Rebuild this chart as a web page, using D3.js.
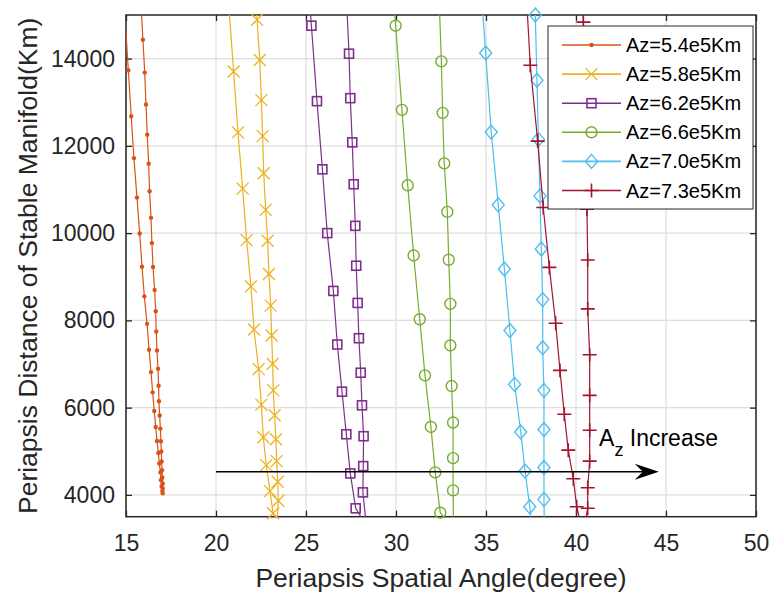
<!DOCTYPE html>
<html lang="en">
<head>
<meta charset="UTF-8">
<title>Periapsis spatial angle vs distance</title>
<script src="https://d3js.org/d3.v7.min.js"></script>
<style>
  body { margin: 0; background: #fff; }
  svg { display: block; font-family: "Liberation Sans", Arial, sans-serif; }
</style>
</head>
<body>
<script>
// data: each series goes down one branch, turns, and goes back up
const ang54 = [14.97, 15.13, 15.29, 15.44, 15.61, 15.76, 15.89, 16.02, 16.17, 16.28, 16.39, 16.48, 16.57, 16.65, 16.72, 16.80, 16.85, 16.91, 16.94, 16.98, 17.02,
               17.04, 17.04, 17.04, 17.02, 17.00, 16.98, 16.96, 16.94, 16.91, 16.87, 16.83, 16.81, 16.78, 16.72, 16.68, 16.65, 16.59, 16.50, 16.44, 16.39, 16.31, 16.26, 16.18, 16.11, 16.04, 15.94, 15.84];
const dist54 = [14786, 13733, 12680, 11720, 10814, 9990, 9230, 8551, 7920, 7326, 6814, 6350, 5923, 5557, 5237, 4963, 4720, 4515, 4339, 4200, 4087,
                4035, 4149, 4263, 4400, 4567, 4766, 4996, 5230, 5520, 5818, 6145, 6503, 6891, 7310, 7744, 8209, 8697, 9224, 9772, 10350, 10961, 11591, 12254, 12949, 13680, 14434, 15200];

const ang58 = [20.73, 20.98, 21.22, 21.48, 21.70, 21.94, 22.11, 22.37, 22.52, 22.63, 22.79, 23.00, 23.17,
               23.40, 23.46, 23.43, 23.37, 23.33, 23.26, 23.18, 23.15, 23.09, 23.04, 22.94, 22.87, 22.76, 22.65, 22.59, 22.52, 22.43, 22.28, 22.20];
const dist58 = [15100, 13703, 12309, 11020, 9840, 8780, 7790, 6883, 6069, 5322, 4682, 4087, 3578,
                3400, 3866, 4300, 4773, 5276, 5825, 6396, 7006, 7653, 8339, 9063, 9825, 10533, 11372, 12224, 13048, 13969, 14892, 15800];

const ang62 = [25.00, 25.30, 25.61, 25.91, 26.18, 26.52, 26.74, 27.00, 27.24, 27.46, 27.76,
               28.35, 28.16, 28.18, 28.20, 28.11, 28.04, 27.94, 27.87, 27.79, 27.74, 27.65, 27.57, 27.46, 27.39, 27.28];
const dist62 = [16400, 14755, 13025, 11463, 10000, 8675, 7447, 6366, 5390, 4492, 3692,
                3300, 4058, 4659, 5345, 6053, 6800, 7591, 8400, 9253, 10167, 11120, 12080, 13094, 14113, 15100];

const ang66 = [29.65, 29.98, 30.33, 30.65, 30.98, 31.32, 31.61, 31.94, 32.18, 32.46,
               33.20, 33.17, 33.17, 33.17, 33.09, 33.02, 33.02, 32.93, 32.85, 32.68, 32.59, 32.52, 32.42];
const dist66 = [16600, 14755, 12826, 11097, 9488, 8026, 6739, 5557, 4515, 3592,
                3200, 4103, 4842, 5658, 6495, 7425, 8378, 9390, 10488, 11600, 12757, 13937, 15100];

const ang70 = [34.69, 34.98, 35.29, 35.68, 36.02, 36.33, 36.59, 36.93, 37.17, 37.43,
               37.55, 38.24, 38.22, 38.22, 38.22, 38.22, 38.15, 38.15, 38.07, 38.00, 37.91, 37.83, 37.74];
const dist70 = [15800, 14128, 12316, 10648, 9177, 7767, 6533, 5443, 4545, 3729,
                3300, 3300, 3898, 4629, 5498, 6396, 7372, 8476, 9635, 10853, 12149, 13504, 15000];

const ang73 = [37.25, 37.46, 37.87, 38.18, 38.52, 38.87, 39.11, 39.35, 39.57, 39.85, 40.04,
               40.40, 40.65, 40.65, 40.76, 40.76, 40.76, 40.76, 40.65, 40.65, 40.61, 40.55, 40.50, 40.45, 40.41, 40.38];
const dist73 = [15400, 13847, 12110, 10586, 9214, 7934, 6853, 5847, 5025, 4369, 3729,
                3100, 3692, 4163, 4773, 5482, 6282, 7212, 8263, 9383, 10549, 11700, 12800, 13850, 14837, 15800];

const seriesNames = ["Az=5.4e5Km", "Az=5.8e5Km", "Az=6.2e5Km", "Az=6.6e5Km", "Az=7.0e5Km", "Az=7.3e5Km"];
const xTicks = [15, 20, 25, 30, 35, 40, 45, 50];
const yTicks = [4000, 6000, 8000, 10000, 12000, 14000];

// styling per series (matlab default order)
const colors = ["#D95319", "#EDB120", "#7E2F8E", "#77AC30", "#4DBEEE", "#A2142F"];
const markers = ["dot", "x", "square", "circle", "diamond", "plus"];

const series = [
  [ang54, dist54], [ang58, dist58], [ang62, dist62],
  [ang66, dist66], [ang70, dist70], [ang73, dist73]
].map(([xs, ys], i) => ({
  name: seriesNames[i], color: colors[i], marker: markers[i],
  pts: xs.map((x, j) => ({ x: x, y: ys[j] }))
}));

const width = 777, height = 593;
const m = { left: 126, right: 21, top: 15, bottom: 76.3 };
const iw = width - m.left - m.right, ih = height - m.top - m.bottom;
const ink = "#262626";

const svg = d3.select("body").append("svg").attr("width", width).attr("height", height);

const x = d3.scaleLinear().domain([15, 50]).range([m.left, m.left + iw]);
const y = d3.scaleLinear().domain([3500, 15000]).range([m.top + ih, m.top]);

svg.append("defs").append("clipPath").attr("id", "clip")
  .append("rect").attr("x", m.left).attr("y", m.top).attr("width", iw).attr("height", ih);

// grid
const grid = svg.append("g").attr("stroke", "#dedede").attr("stroke-width", 1.2);
grid.selectAll(".gx").data(xTicks).join("line")
  .attr("x1", d => x(d)).attr("x2", d => x(d)).attr("y1", m.top).attr("y2", m.top + ih);
grid.selectAll(".gy").data(yTicks).join("line")
  .attr("y1", d => y(d)).attr("y2", d => y(d)).attr("x1", m.left).attr("x2", m.left + iw);

// axes (ticks point inward)
function styleAxis(g) {
  g.select(".domain").remove();
  g.selectAll(".tick line").attr("stroke", ink).attr("stroke-width", 1.3);
  g.selectAll(".tick text").attr("fill", ink).style("font-size", "23px");
}
svg.append("g").attr("transform", `translate(0,${m.top + ih})`)
  .call(d3.axisBottom(x).tickValues(xTicks).tickSizeInner(-6).tickSizeOuter(0).tickPadding(18))
  .call(styleAxis);
svg.append("g").attr("transform", `translate(0,${m.top})`)
  .call(d3.axisTop(x).tickValues(xTicks).tickSizeInner(-6).tickSizeOuter(0).tickFormat(""))
  .call(styleAxis);
svg.append("g").attr("transform", `translate(${m.left},0)`)
  .call(d3.axisLeft(y).tickValues(yTicks).tickFormat(d3.format("d")).tickSizeInner(-6).tickSizeOuter(0).tickPadding(11))
  .call(styleAxis);
svg.append("g").attr("transform", `translate(${m.left + iw},0)`)
  .call(d3.axisRight(y).tickValues(yTicks).tickSizeInner(-6).tickSizeOuter(0).tickFormat(""))
  .call(styleAxis);

svg.append("rect").attr("x", m.left).attr("y", m.top).attr("width", iw).attr("height", ih)
  .attr("fill", "none").attr("stroke", ink).attr("stroke-width", 1.5);

// axis titles
svg.append("text").attr("x", m.left + iw / 2).attr("y", 587).attr("text-anchor", "middle")
  .attr("fill", ink).style("font-size", "26.5px").text("Periapsis Spatial Angle(degree)");
svg.append("text").attr("transform", `translate(37,${m.top + ih / 2}) rotate(-90)`).attr("text-anchor", "middle")
  .attr("fill", ink).style("font-size", "26.5px").text("Periapsis Distance of Stable Manifold(Km)");

// marker drawing
function drawMarker(g, type, color) {
  if (type === "dot") {
    g.append("circle").attr("r", 2.2).attr("fill", color);
  } else if (type === "x") {
    g.append("path").attr("d", "M-6,-6L6,6M-6,6L6,-6").attr("stroke", color).attr("stroke-width", 1.3).attr("fill", "none");
  } else if (type === "square") {
    g.append("rect").attr("x", -4.5).attr("y", -4.5).attr("width", 9).attr("height", 9)
      .attr("stroke", color).attr("stroke-width", 1.6).attr("fill", "none");
  } else if (type === "circle") {
    g.append("circle").attr("r", 5.5).attr("stroke", color).attr("stroke-width", 1.4).attr("fill", "none");
  } else if (type === "diamond") {
    g.append("path").attr("d", "M0,-7L6,0L0,7L-6,0Z").attr("stroke", color).attr("stroke-width", 1.4).attr("fill", "none");
  } else if (type === "plus") {
    g.append("path").attr("d", "M-7,0L7,0M0,-7L0,7").attr("stroke", color).attr("stroke-width", 1.6).attr("fill", "none");
  }
}

const line = d3.line().x(d => x(d.x)).y(d => y(d.y));
const plot = svg.append("g");
series.forEach(s => {
  plot.append("path").datum(s.pts).attr("d", line).attr("clip-path", "url(#clip)")
    .attr("fill", "none").attr("stroke", s.color).attr("stroke-width", 1.2);
  const inside = s.pts.filter(p => p.x >= 15 && p.x <= 50 && p.y >= 3500 && p.y <= 15000);
  inside.forEach(p => {
    const g = plot.append("g").attr("transform", `translate(${x(p.x)},${y(p.y)})`);
    drawMarker(g, s.marker, s.color);
  });
});

// arrow annotation
const ay = y(4530), ax0 = x(20), ax1 = x(44.6);
svg.append("line").attr("x1", ax0).attr("x2", ax1 - 10).attr("y1", ay).attr("y2", ay)
  .attr("stroke", "#000").attr("stroke-width", 1.3);
svg.append("path")
  .attr("d", `M${ax1},${ay}L${ax1 - 24},${ay - 8}L${ax1 - 16},${ay}L${ax1 - 24},${ay + 8}Z`)
  .attr("fill", "#000");
const note = svg.append("text").attr("x", x(41.28)).attr("y", y(5116)).attr("fill", "#000").style("font-size", "23px");
note.append("tspan").text("A");
note.append("tspan").attr("dy", 10).style("font-size", "18px").text("z");
note.append("tspan").attr("dy", -10).text(" Increase");

// legend
const lg = svg.append("g");
lg.append("rect").attr("x", 548).attr("y", 26).attr("width", 205).attr("height", 183)
  .attr("fill", "#fff").attr("stroke", ink).attr("stroke-width", 1);
series.forEach((s, i) => {
  const ry = 45 + i * 29.1;
  lg.append("line").attr("x1", 562).attr("x2", 621).attr("y1", ry).attr("y2", ry)
    .attr("stroke", s.color).attr("stroke-width", 1.6);
  drawMarker(lg.append("g").attr("transform", `translate(591.5,${ry})`), s.marker, s.color);
  lg.append("text").attr("x", 626).attr("y", ry).attr("dy", "0.35em").attr("fill", "#000")
    .style("font-size", "20px").text(s.name);
});
</script>
</body>
</html>
